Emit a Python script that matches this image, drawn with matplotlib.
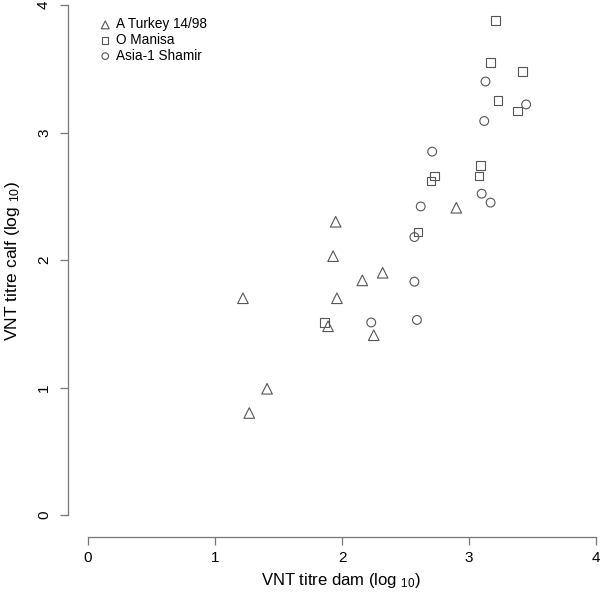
import matplotlib
matplotlib.use("Agg")
import matplotlib.pyplot as plt

plt.rcParams['font.family'] = ['Liberation Sans', 'DejaVu Sans']
plt.rcParams['mathtext.fontset'] = 'custom'
plt.rcParams['mathtext.rm'] = 'Liberation Sans'
plt.rcParams['mathtext.it'] = 'Liberation Sans'

turkey_x = [1.22, 1.27, 1.41, 1.95, 1.93, 1.96, 1.89, 2.16, 2.32, 2.25, 2.90]
turkey_y = [1.70, 0.80, 0.99, 2.30, 2.03, 1.70, 1.48, 1.84, 1.90, 1.41, 2.41]

manisa_x = [3.21, 3.17, 3.42, 3.23, 3.38, 3.09, 3.08, 2.73, 2.70, 2.60, 1.86]
manisa_y = [3.88, 3.55, 3.48, 3.25, 3.17, 2.74, 2.66, 2.66, 2.62, 2.22, 1.51]

shamir_x = [3.13, 3.45, 3.12, 2.71, 3.10, 3.17, 2.62, 2.57, 2.57, 2.59, 2.23]
shamir_y = [3.40, 3.22, 3.09, 2.85, 2.52, 2.45, 2.42, 2.18, 1.83, 1.53, 1.51]

ticks = [0, 1, 2, 3, 4]
series_names = ["A Turkey 14/98", "O Manisa", "Asia-1 Shamir"]

W, H = 600, 597
fig = plt.figure(figsize=(W / 100, H / 100), dpi=100)

# pixel geometry: data 0..4 -> x 88..596, y 515..5 ; padding 4%
px_per = (596 - 88) / 4.0
py_per = (515 - 5) / 4.0
x_left = 88 - 0.16 * px_per
x_right = 596 + 0.16 * px_per
y_bot = 515 + 0.16 * py_per + 2
y_top = 5 - 0.16 * py_per
ax = fig.add_axes([x_left / W, 1 - y_bot / H, (x_right - x_left) / W, (y_bot - y_top) / H])
ax.set_xlim(-0.16, 4.16)
ax.set_ylim(-0.16 - 2 / py_per, 4.16)

mc = '#555555'
ax.scatter(turkey_x, turkey_y, marker='^', s=58, facecolors='none', edgecolors=mc, linewidths=0.8, label=series_names[0])
ax.scatter(manisa_x, manisa_y, marker='s', s=38, facecolors='none', edgecolors=mc, linewidths=0.8, label=series_names[1])
ax.scatter(shamir_x, shamir_y, marker='o', s=40, facecolors='none', edgecolors=mc, linewidths=0.8, label=series_names[2])

for s in ['top', 'right']:
    ax.spines[s].set_visible(False)
ax.spines['left'].set_bounds(0, 4)
ax.spines['bottom'].set_bounds(0, 4)
for s in ['left', 'bottom']:
    ax.spines[s].set_color('#777777')
    ax.spines[s].set_linewidth(0.9)

ax.set_xticks(ticks)
ax.set_yticks(ticks)
ax.set_xticklabels([str(t) for t in ticks])
ax.set_yticklabels([str(t) for t in ticks], rotation=90, va='center')
ax.tick_params(axis='both', colors='#777777', labelcolor='black', length=6, width=0.9, labelsize=11)
ax.tick_params(axis='x', pad=4)
ax.tick_params(axis='y', pad=6)

fig.text(341 / W, 1 - 581 / H, r'VNT titre dam (log $_{10}$)', fontsize=12, ha='center', va='center')
fig.text(13 / W, 1 - 261 / H, r'VNT titre calf (log $_{10}$)', fontsize=12.5, ha='center', va='center',
         rotation=90)

leg = fig.legend(loc='upper left', bbox_to_anchor=(93 / W, 1 - 12 / H), bbox_transform=fig.transFigure,
                 frameon=False, fontsize=9.8, handletextpad=0.3, borderaxespad=0, labelspacing=0.12,
                 handlelength=1.0, markerscale=0.75)

fig.savefig('out.png', dpi=100)
